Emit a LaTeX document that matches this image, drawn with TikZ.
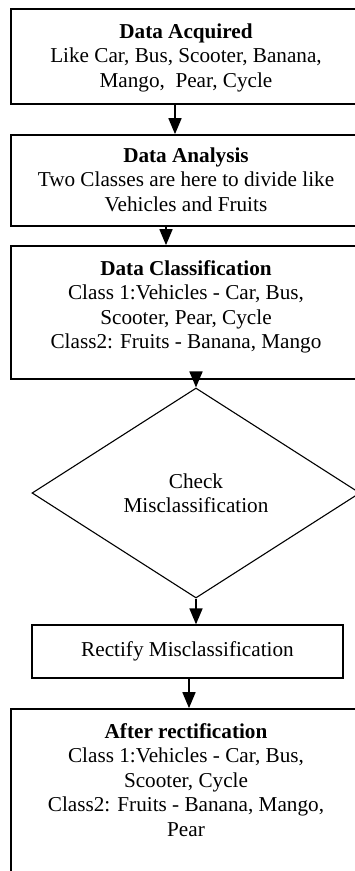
\documentclass[tikz,border=0pt]{standalone}
\usepackage{fontspec}
\setmainfont{Liberation Serif}
\usetikzlibrary{shapes.geometric,arrows.meta,calc}

\tikzset{
  txt/.style={font=\fontsize{21.2}{24.5}\selectfont},
  box/.style={draw, line width=1.7pt, rectangle, inner sep=0pt},
  smallbox/.style={draw, line width=1.3pt, rectangle, inner sep=0pt, txt},
  decision/.style={draw, line width=1.1pt, diamond, inner sep=0pt, txt, align=center},
  boxtext/.style={txt, align=center, inner sep=0pt, anchor=north},
  arr/.style={line width=1.7pt, -{Triangle[length=16pt,width=13pt]}}
}

\begin{document}
\begin{tikzpicture}[x=1pt,y=1pt]
  \useasboundingbox (0,0) rectangle (355,-871);
  \fill[white] (0,0) rectangle (355,-871);
  \clip (0,0) rectangle (355,-871);

  % process boxes (the wide ones run past the right and bottom edges)
  \node[box, minimum width=350pt, minimum height=95pt]  (b1) at (186,-56.5) {};
  \node[box, minimum width=350pt, minimum height=91pt]  (b2) at (186,-180.5) {};
  \node[box, minimum width=350pt, minimum height=133pt] (b3) at (186,-312.5) {};
  \node[decision, minimum width=328pt, minimum height=210pt] (d) at (196,-493)
       {Check\\Misclassification};
  \node[smallbox, minimum width=311pt, minimum height=53pt] (b4) at (187.5,-651.5)
       {Rectify Misclassification};
  \node[box, minimum width=350pt, minimum height=191pt] (b5) at (186,-804.5) {};

  % box contents
  \node[boxtext] (t1) at ([yshift=-12.85pt]b1.north)
       {\strut\textbf{Data Acquired}\\Like Car, Bus, Scooter, Banana,\\Mango,\ \ Pear, Cycle};
  \node[boxtext] (t2) at ([yshift=-10.85pt]b2.north)
       {\strut\textbf{Data Analysis}\\Two Classes are here to divide like\\Vehicles and Fruits};
  \node[boxtext] (t3) at ([yshift=-12.85pt]b3.north)
       {\strut\textbf{Data Classification}\\Class 1:Vehicles - Car, Bus,\\Scooter, Pear, Cycle\\Class2: Fruits - Banana, Mango};
  \node[boxtext] (t5) at ([yshift=-12.85pt]b5.north)
       {\strut\textbf{After rectification}\\Class 1:Vehicles - Car, Bus,\\Scooter, Cycle\\Class2: Fruits - Banana, Mango,\\Pear};

  % flow arrows
  \draw[arr] ([xshift=-11pt]b1.south) -- ([xshift=-11pt]b2.north);
  \draw[arr] ([xshift=-20pt]b2.south) -- ([xshift=-20pt]b3.north);
  \draw[arr] ($(b3.south -| d.north)+(0,6pt)$) -- (d.north);
  \draw[arr] (d.south) -- (d.south |- b4.north);
  \draw[arr] ([xshift=1.5pt]b4.south) -- ([xshift=1.5pt]b4.south |- b5.north);
\end{tikzpicture}
\end{document}
